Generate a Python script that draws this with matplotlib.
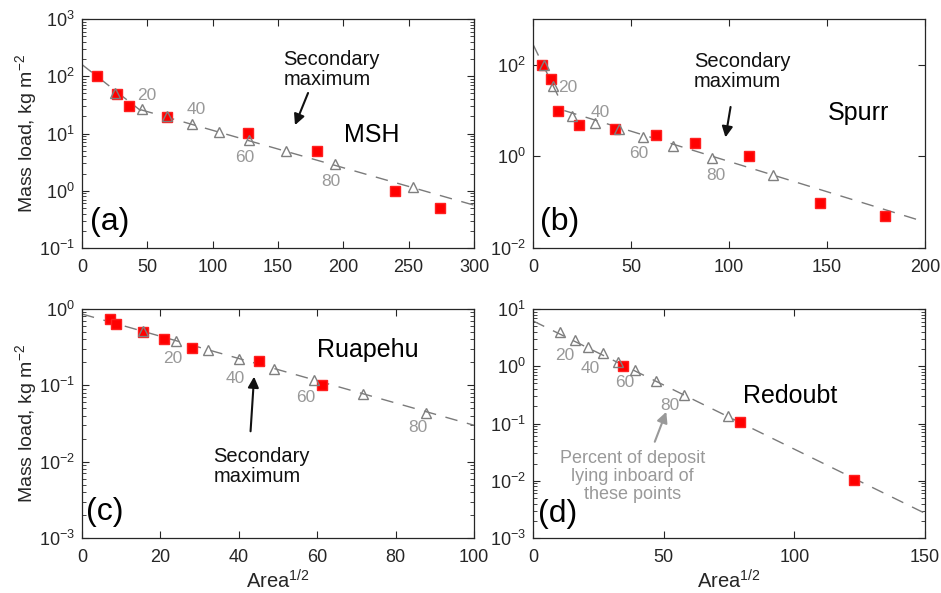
import numpy as np
import matplotlib
matplotlib.use('Agg')
import matplotlib.pyplot as plt
from matplotlib.ticker import LogLocator, NullLocator, MultipleLocator

plt.rcParams['font.family'] = ['Liberation Sans', 'DejaVu Sans']
plt.rcParams['mathtext.fontset'] = 'custom'
plt.rcParams['mathtext.rm'] = 'Liberation Sans'
plt.rcParams['mathtext.it'] = 'Liberation Sans:italic'
plt.rcParams['mathtext.default'] = 'regular'

# ---- data ----
# (a) MSH
msh_sq_x = [11.7, 26.5, 36, 64.8, 126.8, 179.6, 239.5, 274]
msh_sq_y = [100, 49, 30, 19.6, 10.2, 5.0, 1.0, 0.49]
msh_tri_x = [25.3, 45.7, 64.8, 84.4, 104.8, 128, 155.9, 193.4, 253]
msh_tri_y = [50, 27, 20, 14.8, 10.5, 7.7, 4.9, 2.9, 1.15]
msh_fit1_x = [0, 45]
msh_fit1_y = [160, 25]
msh_fit2_x = [45, 300]
msh_fit2_y = [26, 0.56]

# (b) Spurr
spurr_sq_x = [4.7, 9.0, 12.9, 23.4, 41.7, 62.6, 82.6, 110, 146.4, 179.5]
spurr_sq_y = [100, 48, 10, 4.8, 3.9, 3.0, 2.0, 1.03, 0.097, 0.049]
spurr_tri_x = [5.5, 10.2, 19.7, 31.6, 43.8, 56.1, 71.4, 91.4, 122.3]
spurr_tri_y = [98, 35, 7.6, 5.4, 3.9, 2.6, 1.7, 0.92, 0.39]
spurr_fit1_x = [0, 13.4]
spurr_fit1_y = [280, 18.5]
spurr_fit2_x = [16, 200]
spurr_fit2_y = [10, 0.037]

# (c) Ruapehu
ruap_sq_x = [7.1, 8.8, 15.5, 20.9, 28.1, 45.1, 61.2]
ruap_sq_y = [0.73, 0.63, 0.50, 0.41, 0.31, 0.21, 0.10]
ruap_tri_x = [15.5, 24, 32.2, 40.1, 49.1, 59.1, 71.8, 87.8]
ruap_tri_y = [0.52, 0.38, 0.29, 0.22, 0.166, 0.116, 0.076, 0.043]
ruap_fit_x = [0, 100]
ruap_fit_y = [0.86, 0.030]

# (d) Redoubt
red_sq_x = [34.5, 79.4, 122.8]
red_sq_y = [1.0, 0.105, 0.0102]
red_tri_x = [10.3, 16.0, 21.1, 26.8, 32.6, 39.2, 46.9, 57.8, 74.8]
red_tri_y = [3.96, 2.88, 2.19, 1.68, 1.2, 0.86, 0.55, 0.32, 0.135]
red_fit_x = [0, 150]
red_fit_y = [6.2, 0.0027]

pct_labels = ['20', '40', '60', '80']

GRAY_LINE = '#7a7a7a'
GRAY_TRI = '#7f7f7f'
GRAY_TXT = '#999999'
AX_COL = '#262626'

W, H = 941, 593
fig = plt.figure(figsize=(W / 100, H / 100), dpi=100)


def make_ax(px_left, px_top, px_w=392, px_h=229):
    return fig.add_axes([px_left / W, (H - px_top - px_h) / H, px_w / W, px_h / H])


def style_ax(ax, xlim, ylim, xstep, majors=None, minor=True):
    ax.set_yscale('log')
    ax.set_xlim(*xlim)
    ax.set_ylim(*ylim)
    ax.xaxis.set_major_locator(MultipleLocator(xstep))
    if majors is not None:
        ax.set_yticks(majors)
    else:
        ax.yaxis.set_major_locator(LogLocator(base=10, numticks=20))
    if minor:
        ax.yaxis.set_minor_locator(LogLocator(base=10, subs=np.arange(2, 10), numticks=20))
    else:
        ax.yaxis.set_minor_locator(NullLocator())
    ax.tick_params(which='both', direction='in', top=True, right=True, colors=AX_COL,
                   labelsize=13)
    ax.tick_params(which='major', length=5, width=0.8)
    ax.tick_params(which='minor', length=3, width=0.6)
    ax.tick_params(axis='x', pad=8)
    ax.tick_params(axis='y', pad=5)
    for s in ax.spines.values():
        s.set_color(AX_COL)
        s.set_linewidth(0.9)


def draw_data(ax, sq_x, sq_y, tri_x, tri_y, fits):
    for fx, fy in fits:
        ax.plot(fx, fy, color=GRAY_LINE, lw=1.0, dashes=(9, 7), zorder=2)
    ax.plot(sq_x, sq_y, 's', color='#ff0000', mec='#ff2020', ms=7, zorder=3)
    ax.plot(tri_x, tri_y, '^', mfc='none', mec=GRAY_TRI, mew=1.0, ms=7, zorder=4)


def pct_text(ax, positions):
    for lab, (x, y) in zip(pct_labels, positions):
        ax.text(x, y, lab, color=GRAY_TXT, fontsize=12.5, ha='center', va='center')


def sec_max(ax, xy_text, tail, head):
    ax.text(xy_text[0], xy_text[1], 'Secondary\nmaximum', fontsize=14.5, ha='left',
            va='center', linespacing=1.1, color='#111111')
    ax.annotate('', xy=head, xytext=tail,
                arrowprops=dict(arrowstyle='-|>', color='#111111', lw=1.5,
                                mutation_scale=16, shrinkA=0, shrinkB=0))


def ylab(ax):
    ax.set_ylabel('Mass load, kg m$^{-2}$', fontsize=14, color=AX_COL)
    ax.yaxis.set_label_coords(-0.11, 0.5)


def xlab(ax):
    ax.set_xlabel('Area$^{1/2}$', fontsize=14.5, color=AX_COL)
    ax.xaxis.set_label_coords(0.5, -0.135)


ax_a = make_ax(82, 19)
ax_b = make_ax(533, 19)
ax_c = make_ax(82, 309)
ax_d = make_ax(533, 309)

# (a)
style_ax(ax_a, (0, 300), (1e-1, 1e3), 50)
draw_data(ax_a, msh_sq_x, msh_sq_y, msh_tri_x, msh_tri_y,
          [(msh_fit1_x, msh_fit1_y), (msh_fit2_x, msh_fit2_y)])
pct_text(ax_a, [(49.5, 47), (87.8, 26), (124.2, 3.84), (190.6, 1.44)])
sec_max(ax_a, (154, 131), (173, 51), (163, 14))
ax_a.text(222, 9.3, 'MSH', fontsize=18, ha='center', va='center')
ax_a.text(0.02, 0.115, '(a)', transform=ax_a.transAxes, fontsize=23, ha='left', va='center')
ylab(ax_a)

# (b)
style_ax(ax_b, (0, 200), (1e-2, 1e3), 50, majors=[1e-2, 1e0, 1e2], minor=False)
draw_data(ax_b, spurr_sq_x, spurr_sq_y, spurr_tri_x, spurr_tri_y,
          [(spurr_fit1_x, spurr_fit1_y), (spurr_fit2_x, spurr_fit2_y)])
pct_text(ax_b, [(17.6, 31.6), (34.1, 9.3), (54, 1.16), (93.1, 0.38)])
sec_max(ax_b, (82, 71), (100.8, 12), (98.2, 2.6))
ax_b.text(166, 8.7, 'Spurr', fontsize=18, ha='center', va='center')
ax_b.text(0.018, 0.115, '(b)', transform=ax_b.transAxes, fontsize=23, ha='left', va='center')

# (c)
style_ax(ax_c, (0, 100), (1e-3, 1e0), 20)
draw_data(ax_c, ruap_sq_x, ruap_sq_y, ruap_tri_x, ruap_tri_y, [(ruap_fit_x, ruap_fit_y)])
pct_text(ax_c, [(23.1, 0.226), (39, 0.124), (57.1, 0.070), (85.6, 0.028)])
sec_max(ax_c, (33.5, 0.0086), (43, 0.025), (43.9, 0.13))
ax_c.text(73, 0.29, 'Ruapehu', fontsize=18, ha='center', va='center')
ax_c.text(0.01, 0.115, '(c)', transform=ax_c.transAxes, fontsize=23, ha='left', va='center')
ylab(ax_c)
xlab(ax_c)

# (d)
style_ax(ax_d, (0, 150), (1e-3, 1e1), 50)
draw_data(ax_d, red_sq_x, red_sq_y, red_tri_x, red_tri_y, [(red_fit_x, red_fit_y)])
pct_text(ax_d, [(12.2, 1.57), (21.8, 0.9), (35.1, 0.516), (52.5, 0.21)])
ax_d.text(38.0, 0.0118, 'Percent of deposit\nlying inboard of\nthese points', color=GRAY_TXT,
          fontsize=13, ha='center', va='center', linespacing=1.08)
ax_d.annotate('', xy=(51, 0.16), xytext=(46.6, 0.048),
              arrowprops=dict(arrowstyle='-|>', color=GRAY_TXT, lw=1.5,
                              mutation_scale=16, shrinkA=0, shrinkB=0))
ax_d.text(98.5, 0.3, 'Redoubt', fontsize=18, ha='center', va='center')
ax_d.text(0.012, 0.105, '(d)', transform=ax_d.transAxes, fontsize=23, ha='left', va='center')
xlab(ax_d)

fig.savefig('out.png', dpi=100)
